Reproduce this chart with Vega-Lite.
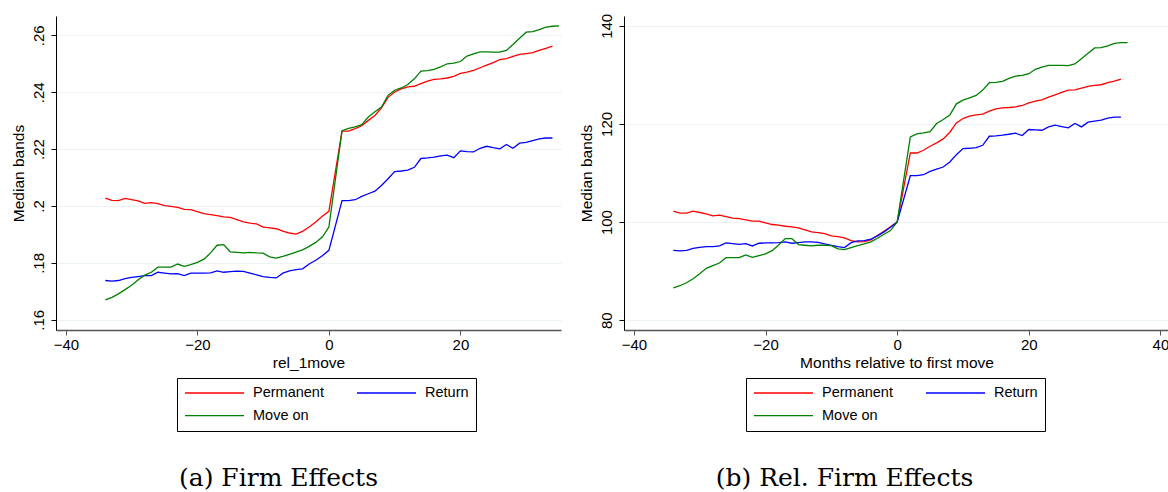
{
 "$schema": "https://vega.github.io/schema/vega-lite/v6.json",
 "background": "white",
 "padding": {"left": 10, "top": 13, "right": 0, "bottom": 0},
 "spacing": 17,
 "config": {
  "view": {"stroke": null},
  "font": "Liberation Sans",
  "axis": {"labelFont": "Liberation Sans", "titleFont": "Liberation Sans", "labelFontSize": 15, "titleFontSize": 15.5, "titleFontWeight": "normal", "labelColor": "black", "titleColor": "black", "tickColor": "black", "domainColor": "black", "tickSize": 5, "labelPadding": 4, "titlePadding": 5},
  "axisX": {"domainColor": "#555555", "tickColor": "#555555", "domainWidth": 1.4, "grid": false, "labelPadding": 2, "titlePadding": 3},
  "axisY": {"gridColor": "#eaf2f3", "gridWidth": 1.2, "labelAngle": 270, "labelAlign": "center", "labelBaseline": "bottom", "labelPadding": 5}
 },
 "resolve": {"scale": {"color": "independent", "x": "independent", "y": "independent"}, "legend": {"color": "independent"}},
 "datasets": {
  "fe": [
   {"month": -34, "Permanent": 0.2028, "Return": 0.1738, "Move on": 0.1670},
   {"month": -33, "Permanent": 0.2020, "Return": 0.1736, "Move on": 0.1679},
   {"month": -32, "Permanent": 0.2019, "Return": 0.1738, "Move on": 0.1691},
   {"month": -31, "Permanent": 0.2027, "Return": 0.1745, "Move on": 0.1706},
   {"month": -30, "Permanent": 0.2022, "Return": 0.1749, "Move on": 0.1721},
   {"month": -29, "Permanent": 0.2018, "Return": 0.1752, "Move on": 0.1741},
   {"month": -28, "Permanent": 0.2009, "Return": 0.1755, "Move on": 0.1757},
   {"month": -27, "Permanent": 0.2012, "Return": 0.1755, "Move on": 0.1767},
   {"month": -26, "Permanent": 0.2008, "Return": 0.1767, "Move on": 0.1785},
   {"month": -25, "Permanent": 0.2001, "Return": 0.1764, "Move on": 0.1785},
   {"month": -24, "Permanent": 0.1999, "Return": 0.1761, "Move on": 0.1785},
   {"month": -23, "Permanent": 0.1995, "Return": 0.1762, "Move on": 0.1796},
   {"month": -22, "Permanent": 0.1988, "Return": 0.1755, "Move on": 0.1788},
   {"month": -21, "Permanent": 0.1987, "Return": 0.1764, "Move on": 0.1794},
   {"month": -20, "Permanent": 0.1980, "Return": 0.1764, "Move on": 0.1802},
   {"month": -19, "Permanent": 0.1973, "Return": 0.1764, "Move on": 0.1813},
   {"month": -18, "Permanent": 0.1970, "Return": 0.1765, "Move on": 0.1835},
   {"month": -17, "Permanent": 0.1966, "Return": 0.1772, "Move on": 0.1862},
   {"month": -16, "Permanent": 0.1962, "Return": 0.1767, "Move on": 0.1864},
   {"month": -15, "Permanent": 0.1960, "Return": 0.1769, "Move on": 0.1839},
   {"month": -14, "Permanent": 0.1952, "Return": 0.1771, "Move on": 0.1837},
   {"month": -13, "Permanent": 0.1944, "Return": 0.1770, "Move on": 0.1835},
   {"month": -12, "Permanent": 0.1940, "Return": 0.1764, "Move on": 0.1837},
   {"month": -11, "Permanent": 0.1937, "Return": 0.1758, "Move on": 0.1835},
   {"month": -10, "Permanent": 0.1926, "Return": 0.1752, "Move on": 0.1834},
   {"month": -9, "Permanent": 0.1923, "Return": 0.1749, "Move on": 0.1821},
   {"month": -8, "Permanent": 0.1920, "Return": 0.1747, "Move on": 0.1817},
   {"month": -7, "Permanent": 0.1912, "Return": 0.1764, "Move on": 0.1823},
   {"month": -6, "Permanent": 0.1905, "Return": 0.1772, "Move on": 0.1830},
   {"month": -5, "Permanent": 0.1901, "Return": 0.1776, "Move on": 0.1838},
   {"month": -4, "Permanent": 0.1911, "Return": 0.1779, "Move on": 0.1846},
   {"month": -3, "Permanent": 0.1926, "Return": 0.1796, "Move on": 0.1858},
   {"month": -2, "Permanent": 0.1944, "Return": 0.1809, "Move on": 0.1872},
   {"month": -1, "Permanent": 0.1964, "Return": 0.1825, "Move on": 0.1891},
   {"month": 0, "Permanent": 0.1981, "Return": 0.1844, "Move on": 0.1926},
   {"month": 2, "Permanent": 0.2263, "Return": 0.2019, "Move on": 0.2265},
   {"month": 3, "Permanent": 0.2263, "Return": 0.2019, "Move on": 0.2273},
   {"month": 4, "Permanent": 0.2272, "Return": 0.2022, "Move on": 0.2278},
   {"month": 5, "Permanent": 0.2282, "Return": 0.2034, "Move on": 0.2286},
   {"month": 6, "Permanent": 0.2301, "Return": 0.2043, "Move on": 0.2313},
   {"month": 7, "Permanent": 0.2318, "Return": 0.2052, "Move on": 0.2331},
   {"month": 8, "Permanent": 0.2345, "Return": 0.2072, "Move on": 0.2348},
   {"month": 9, "Permanent": 0.2382, "Return": 0.2096, "Move on": 0.2389},
   {"month": 10, "Permanent": 0.2401, "Return": 0.2121, "Move on": 0.2407},
   {"month": 11, "Permanent": 0.2412, "Return": 0.2123, "Move on": 0.2415},
   {"month": 12, "Permanent": 0.2419, "Return": 0.2126, "Move on": 0.2427},
   {"month": 13, "Permanent": 0.2421, "Return": 0.2136, "Move on": 0.2447},
   {"month": 14, "Permanent": 0.2430, "Return": 0.2167, "Move on": 0.2474},
   {"month": 15, "Permanent": 0.2439, "Return": 0.2169, "Move on": 0.2476},
   {"month": 16, "Permanent": 0.2445, "Return": 0.2172, "Move on": 0.2480},
   {"month": 17, "Permanent": 0.2447, "Return": 0.2176, "Move on": 0.2489},
   {"month": 18, "Permanent": 0.2450, "Return": 0.2179, "Move on": 0.2500},
   {"month": 19, "Permanent": 0.2456, "Return": 0.2170, "Move on": 0.2502},
   {"month": 20, "Permanent": 0.2466, "Return": 0.2194, "Move on": 0.2508},
   {"month": 21, "Permanent": 0.2471, "Return": 0.2191, "Move on": 0.2527},
   {"month": 22, "Permanent": 0.2477, "Return": 0.2190, "Move on": 0.2535},
   {"month": 23, "Permanent": 0.2486, "Return": 0.2203, "Move on": 0.2542},
   {"month": 24, "Permanent": 0.2495, "Return": 0.2210, "Move on": 0.2542},
   {"month": 25, "Permanent": 0.2504, "Return": 0.2205, "Move on": 0.2541},
   {"month": 26, "Permanent": 0.2515, "Return": 0.2201, "Move on": 0.2541},
   {"month": 27, "Permanent": 0.2518, "Return": 0.2216, "Move on": 0.2547},
   {"month": 28, "Permanent": 0.2526, "Return": 0.2203, "Move on": 0.2568},
   {"month": 29, "Permanent": 0.2533, "Return": 0.2221, "Move on": 0.2590},
   {"month": 30, "Permanent": 0.2536, "Return": 0.2224, "Move on": 0.2611},
   {"month": 31, "Permanent": 0.2539, "Return": 0.2230, "Move on": 0.2613},
   {"month": 32, "Permanent": 0.2547, "Return": 0.2236, "Move on": 0.2620},
   {"month": 33, "Permanent": 0.2554, "Return": 0.2239, "Move on": 0.2629},
   {"month": 34, "Permanent": 0.2562, "Return": 0.2239, "Move on": 0.2632},
   {"month": 35, "Move on": 0.2633}
  ],
  "rel": [
   {"month": -34, "Permanent": 102.22, "Return": 94.25, "Move on": 86.61},
   {"month": -33, "Permanent": 101.81, "Return": 94.11, "Move on": 87.02},
   {"month": -32, "Permanent": 101.81, "Return": 94.25, "Move on": 87.63},
   {"month": -31, "Permanent": 102.22, "Return": 94.66, "Move on": 88.45},
   {"month": -30, "Permanent": 101.95, "Return": 94.86, "Move on": 89.48},
   {"month": -29, "Permanent": 101.68, "Return": 95.00, "Move on": 90.57},
   {"month": -28, "Permanent": 101.27, "Return": 95.00, "Move on": 91.11},
   {"month": -27, "Permanent": 101.40, "Return": 95.13, "Move on": 91.66},
   {"month": -26, "Permanent": 101.13, "Return": 95.75, "Move on": 92.75},
   {"month": -25, "Permanent": 100.79, "Return": 95.61, "Move on": 92.75},
   {"month": -24, "Permanent": 100.72, "Return": 95.47, "Move on": 92.75},
   {"month": -23, "Permanent": 100.45, "Return": 95.61, "Move on": 93.29},
   {"month": -22, "Permanent": 100.18, "Return": 95.13, "Move on": 92.82},
   {"month": -21, "Permanent": 100.18, "Return": 95.68, "Move on": 93.16},
   {"month": -20, "Permanent": 99.84, "Return": 95.75, "Move on": 93.50},
   {"month": -19, "Permanent": 99.50, "Return": 95.75, "Move on": 94.18},
   {"month": -18, "Permanent": 99.36, "Return": 95.81, "Move on": 95.34},
   {"month": -17, "Permanent": 99.15, "Return": 95.95, "Move on": 96.63},
   {"month": -16, "Permanent": 99.02, "Return": 95.68, "Move on": 96.63},
   {"month": -15, "Permanent": 98.81, "Return": 95.81, "Move on": 95.41},
   {"month": -14, "Permanent": 98.40, "Return": 95.95, "Move on": 95.27},
   {"month": -13, "Permanent": 98.00, "Return": 95.95, "Move on": 95.13},
   {"month": -12, "Permanent": 97.86, "Return": 95.88, "Move on": 95.27},
   {"month": -11, "Permanent": 97.66, "Return": 95.54, "Move on": 95.27},
   {"month": -10, "Permanent": 97.18, "Return": 95.27, "Move on": 95.20},
   {"month": -9, "Permanent": 97.04, "Return": 95.00, "Move on": 94.52},
   {"month": -8, "Permanent": 96.77, "Return": 94.79, "Move on": 94.38},
   {"month": -7, "Permanent": 96.22, "Return": 95.81, "Move on": 94.79},
   {"month": -6, "Permanent": 95.95, "Return": 96.16, "Move on": 95.20},
   {"month": -5, "Permanent": 96.02, "Return": 96.22, "Move on": 95.54},
   {"month": -4, "Permanent": 96.36, "Return": 96.50, "Move on": 95.95},
   {"month": -3, "Permanent": 97.25, "Return": 97.18, "Move on": 96.70},
   {"month": -2, "Permanent": 98.10, "Return": 98.00, "Move on": 97.52},
   {"month": -1, "Permanent": 99.05, "Return": 98.95, "Move on": 98.27},
   {"month": 0, "Permanent": 100.0, "Return": 100.0, "Move on": 100.0},
   {"month": 2, "Permanent": 114.08, "Return": 109.45, "Move on": 117.35},
   {"month": 3, "Permanent": 114.08, "Return": 109.45, "Move on": 117.97},
   {"month": 4, "Permanent": 114.63, "Return": 109.65, "Move on": 118.17},
   {"month": 5, "Permanent": 115.45, "Return": 110.33, "Move on": 118.45},
   {"month": 6, "Permanent": 116.13, "Return": 110.81, "Move on": 120.08},
   {"month": 7, "Permanent": 116.95, "Return": 111.22, "Move on": 120.90},
   {"month": 8, "Permanent": 118.31, "Return": 112.24, "Move on": 121.79},
   {"month": 9, "Permanent": 120.22, "Return": 113.74, "Move on": 124.10},
   {"month": 10, "Permanent": 121.10, "Return": 114.97, "Move on": 124.85},
   {"month": 11, "Permanent": 121.58, "Return": 115.04, "Move on": 125.33},
   {"month": 12, "Permanent": 121.85, "Return": 115.17, "Move on": 125.81},
   {"month": 13, "Permanent": 121.99, "Return": 115.65, "Move on": 126.90},
   {"month": 14, "Permanent": 122.60, "Return": 117.49, "Move on": 128.40},
   {"month": 15, "Permanent": 123.08, "Return": 117.56, "Move on": 128.47},
   {"month": 16, "Permanent": 123.29, "Return": 117.70, "Move on": 128.67},
   {"month": 17, "Permanent": 123.35, "Return": 117.90, "Move on": 129.28},
   {"month": 18, "Permanent": 123.49, "Return": 118.11, "Move on": 129.76},
   {"month": 19, "Permanent": 123.76, "Return": 117.63, "Move on": 129.90},
   {"month": 20, "Permanent": 124.31, "Return": 118.86, "Move on": 130.24},
   {"month": 21, "Permanent": 124.65, "Return": 118.79, "Move on": 131.13},
   {"month": 22, "Permanent": 124.92, "Return": 118.72, "Move on": 131.60},
   {"month": 23, "Permanent": 125.47, "Return": 119.40, "Move on": 131.94},
   {"month": 24, "Permanent": 125.94, "Return": 119.74, "Move on": 131.94},
   {"month": 25, "Permanent": 126.42, "Return": 119.47, "Move on": 131.94},
   {"month": 26, "Permanent": 126.89, "Return": 119.20, "Move on": 131.87},
   {"month": 27, "Permanent": 126.96, "Return": 120.08, "Move on": 132.22},
   {"month": 28, "Permanent": 127.31, "Return": 119.40, "Move on": 133.31},
   {"month": 29, "Permanent": 127.65, "Return": 120.35, "Move on": 134.40},
   {"month": 30, "Permanent": 127.85, "Return": 120.56, "Move on": 135.49},
   {"month": 31, "Permanent": 127.99, "Return": 120.76, "Move on": 135.56},
   {"month": 32, "Permanent": 128.40, "Return": 121.17, "Move on": 135.90},
   {"month": 33, "Permanent": 128.74, "Return": 121.38, "Move on": 136.44},
   {"month": 34, "Permanent": 129.15, "Return": 121.38, "Move on": 136.58},
   {"month": 35, "Move on": 136.58}
  ]
 },
 "hconcat": [
  {
   "data": {"name": "fe"},
   "width": 505,
   "height": 314,
   "title": {"text": "(a) Firm Effects", "orient": "bottom", "anchor": "middle", "font": "DejaVu Serif", "fontSize": 25, "fontWeight": "normal", "color": "black", "baseline": "alphabetic", "offset": 54, "dx": -30},
   "transform": [{"fold": ["Permanent", "Return", "Move on"], "as": ["series", "value"]}, {"filter": "isValid(datum.value)"}],
   "mark": {"type": "line", "strokeWidth": 1.3},
   "encoding": {
    "x": {"field": "month", "type": "quantitative", "scale": {"domain": [-41.5, 35.3], "nice": false, "zero": false}, "axis": {"title": "rel_1move", "values": [-40, -20, 0, 20]}},
    "y": {"field": "value", "type": "quantitative", "scale": {"domain": [0.1564, 0.2668], "nice": false, "zero": false}, "axis": {"title": "Median bands", "values": [0.16, 0.18, 0.2, 0.22, 0.24, 0.26], "labelExpr": "replace(format(datum.value, '.2~f'), '0.', '.')", "grid": true}},
    "color": {"field": "series", "type": "nominal", "scale": {"domain": ["Permanent", "Return", "Move on"], "range": ["#ff0000", "#0000ff", "#008000"]},
     "legend": {"orient": "none", "legendX": 121, "legendY": 362, "columns": 2, "direction": "horizontal", "title": null, "symbolType": "stroke", "symbolSize": 3481, "symbolStrokeWidth": 1.3, "clipHeight": 16, "labelFont": "Liberation Sans", "labelFontSize": 14.5, "labelColor": "black", "labelOffset": 8, "strokeColor": "black", "fillColor": "white", "padding": 7, "rowPadding": 6.7, "columnPadding": 32, "gridAlign": "each", "labelLimit": 200}}
   }
  },
  {
   "data": {"name": "rel"},
   "width": 545,
   "height": 314,
   "title": {"text": "(b) Rel. Firm Effects", "orient": "bottom", "anchor": "middle", "font": "DejaVu Serif", "fontSize": 25, "fontWeight": "normal", "color": "black", "baseline": "alphabetic", "offset": 54, "dx": -52},
   "transform": [{"fold": ["Permanent", "Return", "Move on"], "as": ["series", "value"]}, {"filter": "isValid(datum.value)"}],
   "mark": {"type": "line", "strokeWidth": 1.3},
   "encoding": {
    "x": {"field": "month", "type": "quantitative", "scale": {"domain": [-41.5, 41.3], "nice": false, "zero": false}, "axis": {"title": "Months relative to first move", "values": [-40, -20, 0, 20, 40]}},
    "y": {"field": "value", "type": "quantitative", "scale": {"domain": [78, 142], "nice": false, "zero": false}, "axis": {"title": "Median bands", "values": [80, 100, 120, 140], "grid": true}},
    "color": {"field": "series", "type": "nominal", "scale": {"domain": ["Permanent", "Return", "Move on"], "range": ["#ff0000", "#0000ff", "#008000"]},
     "legend": {"orient": "none", "legendX": 122, "legendY": 362, "columns": 2, "direction": "horizontal", "title": null, "symbolType": "stroke", "symbolSize": 3481, "symbolStrokeWidth": 1.3, "clipHeight": 16, "labelFont": "Liberation Sans", "labelFontSize": 14.5, "labelColor": "black", "labelOffset": 8, "strokeColor": "black", "fillColor": "white", "padding": 7, "rowPadding": 6.7, "columnPadding": 32, "gridAlign": "each", "labelLimit": 200}}
   }
  }
 ]
}
